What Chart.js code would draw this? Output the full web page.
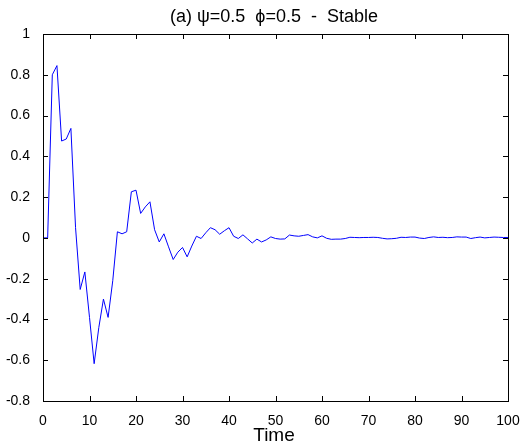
<!DOCTYPE html>
<html>
<head>
<meta charset="utf-8">
<script src="https://cdn.jsdelivr.net/npm/chart.js@4/dist/chart.umd.min.js"></script>
<style>
	html, body { margin: 0; padding: 0; background: #fff; }
	#wrap { width: 524px; height: 446px; }
</style>
</head>
<body>
<div id="wrap"><canvas id="chart"></canvas></div>
<script>
const titleText = "(a) \u03C8=0.5  \u03D5=0.5  -  Stable"
const xAxisLabel = "Time"

// time steps 0..100
const timeSteps = Array.from({ length: 101 }, (_, i) => i)

// response values, one per time step
const response = [
	0, 0, 0.80, 0.845, 0.475, 0.485, 0.537, 0.05, -0.253, -0.167,
	-0.39, -0.617, -0.44, -0.30, -0.39, -0.21, 0.03, 0.02, 0.03, 0.226,
	0.234, 0.12, 0.152, 0.177, 0.04, -0.02, 0.02, -0.044, -0.106, -0.07,
	-0.047, -0.093, -0.04, 0.008, -0.003, 0.025, 0.05, 0.04, 0.018, 0.035,
	0.05, 0.008, -0.003, 0.015, -0.005, -0.025, -0.006, -0.02, -0.01, 0.005,
	-0.003, -0.006, -0.005, 0.014, 0.01, 0.008, 0.012, 0.016, 0.005, 0,
	0.01, -0.002, -0.007, -0.006, -0.006, -0.003, 0.003, 0.002, 0.001, 0.002,
	0.002, 0.003, 0.002, -0.002, -0.005, -0.004, -0.002, 0.003, 0.002, 0.004,
	0.004, -0.001, -0.003, 0.002, 0.005, 0.002, 0.003, 0.001, 0.002, 0.005,
	0.004, 0.004, -0.003, 0.001, 0.004, 0, 0.002, 0.004, 0.003, 0.002,
	0.002,
]

const xTicks = [0, 10, 20, 30, 40, 50, 60, 70, 80, 90, 100]
const yTicks = [1, 0.8, 0.6, 0.4, 0.2, 0, -0.2, -0.4, -0.6, -0.8]

const FONT = "'Liberation Sans', Arial, sans-serif"

// matlab style box with inward ticks, plus title and axis label
const matlabFrame = {
	id: "matlabFrame",
	afterDraw(chart) {
		const { ctx, chartArea: a, scales } = chart
		const tick = 5
		ctx.save()
		ctx.strokeStyle = "#000"
		ctx.lineWidth = 1
		ctx.strokeRect(a.left + 0.5, a.top + 0.5, a.right - a.left, a.bottom - a.top)
		ctx.beginPath()
		xTicks.forEach((v) => {
			const px = Math.round(scales.x.getPixelForValue(v)) + 0.5
			ctx.moveTo(px, a.bottom)
			ctx.lineTo(px, a.bottom - tick)
			ctx.moveTo(px, a.top)
			ctx.lineTo(px, a.top + tick)
		})
		yTicks.forEach((v) => {
			const py = Math.round(scales.y.getPixelForValue(v)) + 0.5
			ctx.moveTo(a.left, py)
			ctx.lineTo(a.left + tick, py)
			ctx.moveTo(a.right, py)
			ctx.lineTo(a.right - tick, py)
		})
		ctx.stroke()

		ctx.fillStyle = "#000"
		ctx.textAlign = "center"
		ctx.textBaseline = "middle"
		ctx.font = "18px " + FONT
		ctx.fillText(titleText, 274, 17)
		ctx.font = "19px " + FONT
		ctx.fillText(xAxisLabel, 274, 436)
		ctx.restore()
	},
}

function buildData() {
	return {
		datasets: [
			{
				data: timeSteps.map((t, i) => ({ x: t, y: response[i] })),
				borderColor: "#0000ff",
				borderWidth: 1,
				pointRadius: 0,
				tension: 0,
				fill: false,
			},
		],
	}
}

const ctx = document.getElementById("chart")
new Chart(ctx, {
	type: "line",
	data: buildData(),
	options: {
		responsive: true,
		maintainAspectRatio: false,
		animation: false,
		layout: { padding: { top: 34, right: 16, left: 0, bottom: 0 } },
		plugins: { legend: { display: false }, tooltip: { enabled: false } },
		scales: {
			x: {
				type: "linear",
				min: 0,
				max: 100,
				afterFit: (scale) => { scale.height = 45 },
				afterBuildTicks: (scale) => { scale.ticks = xTicks.map((v) => ({ value: v })) },
				grid: { display: false },
				border: { display: false },
				ticks: { color: "#000", padding: 4, maxRotation: 0, font: { family: FONT, size: 14 } },
			},
			y: {
				min: -0.8,
				max: 1,
				afterFit: (scale) => { scale.width = 43 },
				afterBuildTicks: (scale) => { scale.ticks = yTicks.map((v) => ({ value: v })) },
				grid: { display: false },
				border: { display: false },
				ticks: {
					color: "#000",
					padding: 5,
					font: { family: FONT, size: 14 },
					callback: (v) => String(Number(v.toFixed(1))),
				},
			},
		},
	},
	plugins: [matlabFrame],
})
</script>
</body>
</html>
